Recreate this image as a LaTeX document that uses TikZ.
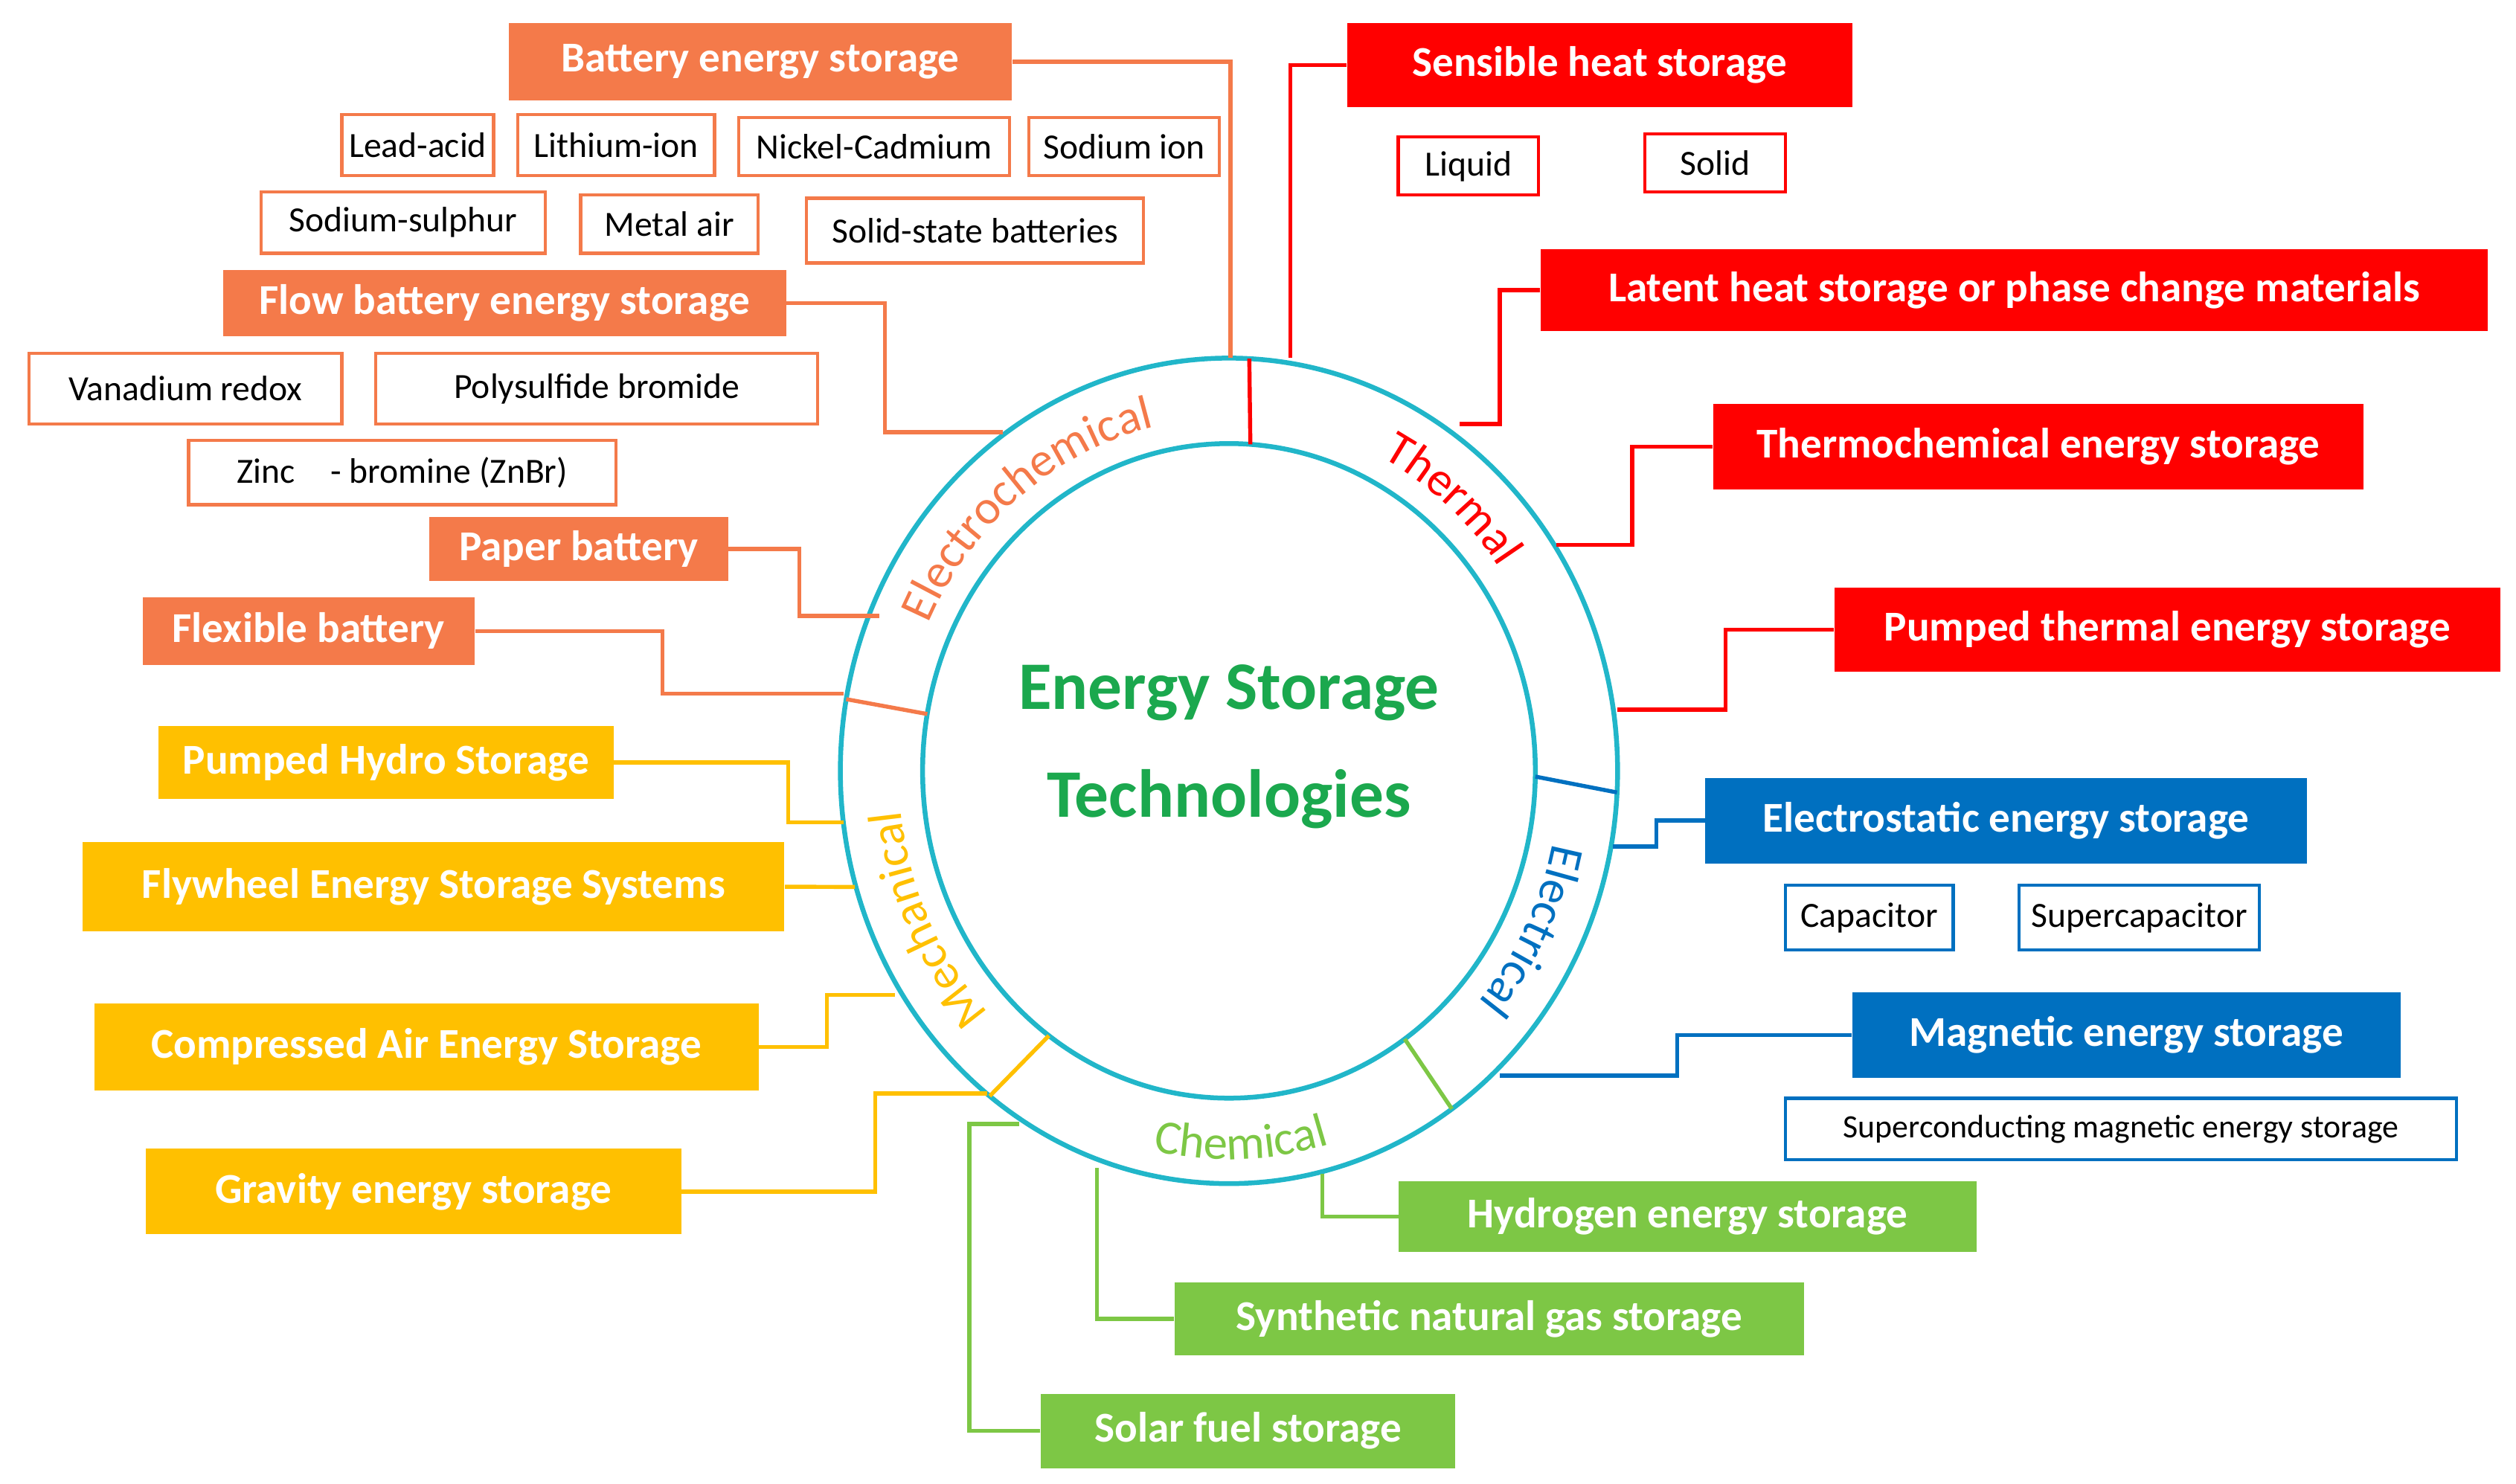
\documentclass[tikz,border=0pt]{standalone}
\usepackage{fontspec}
\setmainfont{Carlito}
\usetikzlibrary{decorations.text}
\definecolor{orc}{HTML}{F47A4A}
\definecolor{rdc}{HTML}{FF0000}
\definecolor{blc}{HTML}{0070C0}
\definecolor{grc}{HTML}{7DC745}
\definecolor{ylc}{HTML}{FFC000}
\definecolor{cyc}{HTML}{21B6C9}
\definecolor{cgc}{HTML}{1BA84E}
\newcommand\mybox[7]{\node[#2, minimum width={(#5-#3)*0.02cm}, minimum height={(#6-#4)*0.02cm}, anchor=north west, inner sep=0pt] (#1) at (#3,#4) {#7};}
\tikzset{
 fb/.style={fill=#1, text=white, font=\bfseries\fontsize{15}{17}\selectfont},
 ob/.style={draw=#1, line width=0.04cm, fill=white, text=black, font=\fontsize{12.5}{14}\selectfont},
 cn/.style={draw=#1, line width=0.05cm},
 ringlab/.style 2 args={decorate, decoration={text along path, text align=center, text={|\color{#1}\fontsize{17}{19}\selectfont|#2}}}
}
\begin{document}
\begin{tikzpicture}[x=0.02cm, y=-0.02cm]
\useasboundingbox (0,0) rectangle (1560,920);
% ring
\begin{scope}[shift={(762,478)}, x=1cm, y=1cm]
 \draw[cyc, line width=0.06cm] (0,0) ellipse[x radius=4.82, y radius=5.12];
 \draw[cyc, line width=0.06cm] (0,0) ellipse[x radius=3.8, y radius=4.06];
 \draw[orc, line width=0.05cm] (170:3.8 and 4.06) -- (170:4.82 and 5.12);
 \draw[rdc, line width=0.05cm] (86:3.8 and 4.06) -- (87:4.82 and 5.12);
 \draw[blc, line width=0.05cm] (-1:3.8 and 4.06) -- (-3:4.82 and 5.12);
 \draw[grc, line width=0.05cm] (-55:3.8 and 4.06) -- (-55:4.82 and 5.12);
 \draw[ylc, line width=0.05cm] (-126:3.8 and 4.06) -- (-128:4.82 and 5.12);
 \path[ringlab={orc}{Electrochemical}] (162:4.1 and 4.38) arc[start angle=162, end angle=96, x radius=4.1cm, y radius=4.38cm];
 \path[ringlab={rdc}{Thermal}] (70:4.1 and 4.38) arc[start angle=70, end angle=28, x radius=4.1cm, y radius=4.38cm];
 \path[ringlab={blc}{Electrical}] (-3:4.1 and 4.38) arc[start angle=-3, end angle=-50, x radius=4.1cm, y radius=4.38cm];
 \path[ringlab={ylc}{Mechanical}] (230:4.1 and 4.38) arc[start angle=230, end angle=180, x radius=4.1cm, y radius=4.38cm];
 \path[ringlab={grc}{Chemical}] (252:4.5 and 4.82) arc[start angle=252, end angle=292, x radius=4.5cm, y radius=4.82cm];
 \node[text=cgc, font=\bfseries\fontsize{24}{38}\selectfont, align=center] (ctr) at (0,0.3) {Energy Storage\\Technologies};
\end{scope}
% orange
\mybox{bat}{fb=orc}{315}{14}{627}{62}{Battery energy storage}
\mybox{la}{ob=orc}{211}{70}{305}{108}{Lead-acid}
\mybox{li}{ob=orc}{320}{70}{442}{108}{Lithium-ion}
\mybox{nc}{ob=orc}{457}{72}{625}{108}{Nickel-Cadmium}
\mybox{si}{ob=orc}{637}{72}{755}{108}{Sodium ion}
\mybox{ss}{ob=orc}{161}{118}{337}{156}{Sodium-sulphur}
\mybox{ma}{ob=orc}{359}{120}{469}{156}{Metal air}
\mybox{sb}{ob=orc}{499}{122}{708}{162}{Solid-state batteries}
\mybox{flow}{fb=orc}{138}{167}{487}{208}{Flow battery energy storage}
\mybox{vr}{ob=orc}{17}{218}{211}{262}{Vanadium redox}
\mybox{pb}{ob=orc}{232}{218}{506}{262}{Polysulfide bromide}
\mybox{zb}{ob=orc}{116}{272}{381}{312}{Zinc\quad- bromine (ZnBr)}
\mybox{pap}{fb=orc}{266}{320}{451}{360}{Paper battery}
\mybox{flex}{fb=orc}{88}{370}{294}{412}{Flexible battery}
\coordinate (o1) at (763,222);
\coordinate (o2) at (622,268);
\coordinate (o3) at (545,382);
\coordinate (o4) at (523,430);
\draw[cn=orc] (bat.east) -| (o1);
\draw[cn=orc] (flow.east) -- ++(61,0) |- (o2);
\draw[cn=orc] (pap.east) -- ++(44,0) |- (o3);
\draw[cn=orc] (flex.east) -- ++(116,0) |- (o4);
% red
\mybox{sen}{fb=rdc}{835}{14}{1148}{66}{Sensible heat storage}
\mybox{liq}{ob=rdc}{866}{84}{953}{120}{Liquid}
\mybox{sol}{ob=rdc}{1019}{82}{1106}{118}{Solid}
\mybox{lat}{fb=rdc}{955}{154}{1542}{205}{Latent heat storage or phase change materials}
\mybox{thc}{fb=rdc}{1062}{250}{1465}{303}{Thermochemical energy storage}
\mybox{pte}{fb=rdc}{1137}{364}{1550}{416}{Pumped thermal energy storage}
\coordinate (r1) at (800,222);
\coordinate (r2) at (905,263);
\coordinate (r3) at (965,338);
\coordinate (r4) at (1003,440);
\draw[cn=rdc] (sen.west) -| (r1);
\draw[cn=rdc] (lat.west) -- ++(-25,0) |- (r2);
\draw[cn=rdc] (thc.west) -- ++(-50,0) |- (r3);
\draw[cn=rdc] (pte.west) -- ++(-67,0) |- (r4);
% blue
\mybox{est}{fb=blc}{1057}{482}{1430}{535}{Electrostatic energy storage}
\mybox{cap}{ob=blc}{1106}{548}{1210}{588}{Capacitor}
\mybox{scap}{ob=blc}{1251}{548}{1400}{588}{Supercapacitor}
\mybox{mag}{fb=blc}{1148}{615}{1488}{668}{Magnetic energy storage}
\mybox{smes}{ob=blc}{1106}{680}{1522}{718}{\fontsize{11.5}{13}\selectfont Superconducting magnetic energy storage}
\coordinate (b1) at (1000,525);
\coordinate (b2) at (930,667);
\draw[cn=blc] (est.west) -- ++(-30,0) |- (b1);
\draw[cn=blc] (mag.west) -- ++(-108,0) |- (b2);
% green
\mybox{hyd}{fb=grc}{867}{732}{1225}{776}{Hydrogen energy storage}
\mybox{sng}{fb=grc}{728}{795}{1118}{840}{Synthetic natural gas storage}
\mybox{sfs}{fb=grc}{645}{864}{902}{910}{Solar fuel storage}
\coordinate (g1) at (820,728);
\coordinate (g2) at (680,724);
\coordinate (g3) at (632,697);
\draw[cn=grc] (hyd.west) -| (g1);
\draw[cn=grc] (sng.west) -| (g2);
\draw[cn=grc] (sfs.west) -- ++(-44,0) |- (g3);
% yellow
\mybox{phs}{fb=ylc}{98}{450}{380}{495}{Pumped Hydro Storage}
\mybox{fly}{fb=ylc}{51}{522}{486}{577}{Flywheel Energy Storage Systems}
\mybox{caes}{fb=ylc}{58}{622}{470}{676}{Compressed Air Energy Storage}
\mybox{grav}{fb=ylc}{90}{712}{422}{765}{Gravity energy storage}
\coordinate (y1) at (523,510);
\coordinate (y2) at (530,550);
\coordinate (y3) at (555,617);
\coordinate (y4) at (612,678);
\draw[cn=ylc] (phs.east) -- ++(108,0) |- (y1);
\draw[cn=ylc] (fly.east) -- (y2);
\draw[cn=ylc] (caes.east) -- ++(42,0) |- (y3);
\draw[cn=ylc] (grav.east) -- ++(120,0) |- (y4);
\end{tikzpicture}
\end{document}
